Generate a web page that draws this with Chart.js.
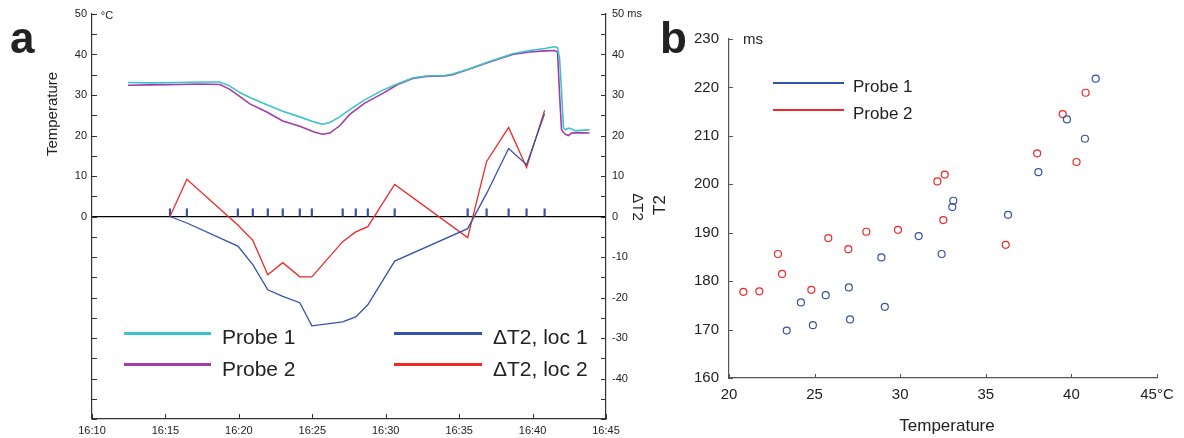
<!DOCTYPE html>
<html>
<head>
<meta charset="utf-8">
<script src="https://cdn.jsdelivr.net/npm/chart.js@4.4.1/dist/chart.umd.min.js"></script>
<style>
  body { margin: 0; background: #fff; font-family: "Liberation Sans", Arial, Helvetica, sans-serif; color: #222; }
  #wrap { position: relative; width: 1184px; height: 438px; overflow: hidden; }
  canvas { position: absolute; top: 0; }
  .lbl { position: absolute; line-height: 1; white-space: nowrap; }
  .c { transform: translate(-50%, -50%); }
  .l { transform: translateY(-50%); }
  .key { position: absolute; }
</style>
</head>
<body>
<div id="wrap">
  <canvas id="chartA" width="660" height="438" style="left:0"></canvas>
  <canvas id="chartB" width="524" height="438" style="left:660px"></canvas>

  <div class="lbl" style="left:10px; top:16px; font-size:44px; font-weight:bold;">a</div>
  <div class="lbl" style="left:660px; top:16px; font-size:44px; font-weight:bold;">b</div>

  <div class="lbl c" style="left:107px; top:15px; font-size:11px;">°C</div>
  <div class="lbl c" style="left:51px; top:114px; font-size:15px; transform: translate(-50%,-50%) rotate(-90deg);">Temperature</div>
  <div class="lbl c" style="left:638px; top:207px; font-size:15px; transform: translate(-50%,-50%) rotate(90deg);">ΔT2</div>

  <div class="key" style="left:124px; top:332px; width:87px; height:3px; background:#3cc3c9;"></div>
  <div class="lbl l" style="left:222px; top:336px; font-size:21px;">Probe 1</div>
  <div class="key" style="left:124px; top:363px; width:87px; height:3px; background:#a33ca6;"></div>
  <div class="lbl l" style="left:222px; top:368px; font-size:21px;">Probe 2</div>
  <div class="key" style="left:394px; top:332px; width:88px; height:3px; background:#3552a8;"></div>
  <div class="lbl l" style="left:493px; top:336px; font-size:21px;">ΔT2, loc 1</div>
  <div class="key" style="left:394px; top:363px; width:88px; height:3px; background:#f02828;"></div>
  <div class="lbl l" style="left:493px; top:368px; font-size:21px;">ΔT2, loc 2</div>

  <div class="lbl l" style="left:743px; top:38px; font-size:15px;">ms</div>
  <div class="lbl c" style="left:659px; top:205px; font-size:17px; transform: translate(-50%,-50%) rotate(-90deg);">T2</div>
  <div class="lbl c" style="left:947px; top:425px; font-size:17px;">Temperature</div>

  <div class="key" style="left:773px; top:82px; width:71px; height:2px; background:#3552a8;"></div>
  <div class="lbl l" style="left:853px; top:86px; font-size:17px;">Probe 1</div>
  <div class="key" style="left:773px; top:109px; width:71px; height:2px; background:#f02828;"></div>
  <div class="lbl l" style="left:853px; top:113px; font-size:17px;">Probe 2</div>
</div>

<script>
// panel a: temperature traces, minutes after 16:10
const timeMin = [2.45, 3.95, 5.99, 7.35, 8.71, 9.39, 10.07, 10.75, 11.9, 12.99, 14.15, 15.17, 15.71, 16.19, 16.87, 17.55, 18.57, 19.8, 20.82, 21.84, 22.79, 24.01, 24.56, 25.71, 26.87, 28.64, 29.8, 30.82, 31.5, 31.7, 31.84, 31.97, 32.1, 32.24, 32.45, 32.65, 32.93, 33.88];
const probe1 = [33.1, 33.0, 33.1, 33.2, 33.2, 32.2, 30.6, 29.4, 27.6, 26.0, 24.6, 23.3, 22.8, 23.2, 24.6, 26.4, 28.8, 31.2, 32.8, 34.2, 34.7, 34.8, 35.2, 36.5, 38.0, 40.2, 41.0, 41.5, 41.9, 41.7, 39.0, 31.0, 22.0, 21.4, 21.8, 21.6, 21.2, 21.4];
const probe2 = [32.4, 32.5, 32.6, 32.7, 32.6, 31.4, 29.6, 27.8, 25.8, 23.6, 22.3, 20.8, 20.3, 20.6, 22.4, 25.2, 28.0, 30.4, 32.6, 34.1, 34.6, 34.7, 35.0, 36.4, 37.9, 40.0, 40.6, 40.9, 41.0, 40.6, 30.0, 21.5, 20.8, 20.3, 20.0, 20.6, 20.7, 20.6];

// panel a: T2 change at the scan times
const scanMin = [5.31, 6.46, 9.93, 10.95, 11.97, 12.99, 14.15, 14.97, 17.07, 17.96, 18.78, 20.61, 25.58, 26.87, 28.37, 29.59, 30.82];
const dT2loc1 = [0, -1.6, -7.3, -11.9, -18.1, -19.7, -21.3, -27.0, -26.0, -24.8, -21.8, -11.0, -3.0, 5.7, 16.8, 12.8, 25.4];
const dT2loc2 = [0, 9.2, -2.1, -5.9, -14.4, -11.4, -14.9, -14.9, -6.2, -3.8, -2.5, 7.9, -5.2, 13.6, 22.0, 12.1, 26.2];

// panel b: T2 against temperature
const tempProbe1 = [23.37, 24.2, 24.9, 25.65, 27.0, 27.07, 28.9, 29.1, 31.08, 32.42, 33.04, 33.1, 36.3, 38.07, 39.74, 40.79, 41.42];
const t2Probe1 = [169.8, 175.6, 170.9, 177.1, 178.7, 172.1, 184.9, 174.7, 189.3, 185.6, 195.3, 196.6, 193.7, 202.5, 213.4, 209.4, 221.8];
const tempProbe2 = [20.84, 21.77, 22.86, 23.1, 24.81, 25.8, 26.97, 28.02, 29.87, 32.17, 32.52, 32.6, 36.16, 38.0, 39.49, 40.3, 40.83];
const t2Probe2 = [177.8, 177.9, 185.6, 181.5, 178.2, 188.9, 186.6, 190.2, 190.6, 200.6, 192.6, 202.0, 187.5, 206.4, 214.5, 204.6, 218.9];

const FONT = "'Liberation Sans', Arial, Helvetica, sans-serif";
Chart.defaults.font.family = FONT;
Chart.defaults.color = '#222';

const pts = (xs, ys) => xs.map((x, i) => ({ x: x, y: ys[i] }));

// tick marks pointing into the plot, like the original figure
const inwardTicks = {
  id: 'inwardTicks',
  afterDraw(chart, args, opts) {
    const ctx = chart.ctx, a = chart.chartArea;
    ctx.save();
    ctx.strokeStyle = opts.color;
    ctx.lineWidth = 1;
    Object.values(chart.scales).forEach(s => {
      s.ticks.forEach(t => {
        const p = Math.round(s.getPixelForValue(t.value)) + 0.5;
        ctx.beginPath();
        if (s.axis === 'x') { ctx.moveTo(p, a.bottom); ctx.lineTo(p, a.bottom - opts.len); }
        else if (s.position === 'left') { ctx.moveTo(a.left, p); ctx.lineTo(a.left + opts.len, p); }
        else { ctx.moveTo(a.right, p); ctx.lineTo(a.right - opts.len, p); }
        ctx.stroke();
      });
    });
    ctx.restore();
  }
};

new Chart(document.getElementById('chartA'), {
  type: 'line',
  data: {
    datasets: [
      { data: pts(timeMin, probe1), borderColor: '#3cc3c9', borderWidth: 1.6, pointRadius: 0, tension: 0, yAxisID: 'y' },
      { data: pts(timeMin, probe2), borderColor: '#a33ca6', borderWidth: 1.6, pointRadius: 0, tension: 0, yAxisID: 'y' },
      { data: pts(scanMin, dT2loc1), borderColor: '#3552a8', borderWidth: 1.3, pointRadius: 0, tension: 0, yAxisID: 'y2' },
      { data: pts(scanMin, dT2loc2), borderColor: '#f02828', borderWidth: 1.3, pointRadius: 0, tension: 0, yAxisID: 'y2' },
      { data: scanMin.map(m => ({ x: m, y: 1 })), showLine: false, pointStyle: 'line', rotation: 90,
        pointRadius: 4, borderColor: '#3552a8', borderWidth: 2.2, yAxisID: 'y2' }
    ]
  },
  options: {
    responsive: false,
    devicePixelRatio: 1,
    animation: false,
    layout: { padding: { left: 0, right: 0, top: 14, bottom: 0 } },
    plugins: { legend: { display: false }, tooltip: { enabled: false }, inwardTicks: { len: 5, color: '#333' } },
    scales: {
      x: {
        type: 'linear', min: 0, max: 35,
        ticks: { stepSize: 5, maxRotation: 0, padding: 5, font: { size: 11 },
          callback: v => '16:' + String(10 + v).padStart(2, '0') },
        grid: { drawOnChartArea: false, drawTicks: false },
        border: { color: '#333', width: 1.2 },
        afterFit: s => { s.height = 19; }
      },
      y: {
        position: 'left', min: -50, max: 50,
        ticks: { stepSize: 5, autoSkip: false, padding: 5, font: { size: 11 },
          callback: v => (v >= 0 && v % 10 === 0) ? v : '' },
        grid: { color: c => (c.tick && c.tick.value === 0) ? '#000' : 'rgba(0,0,0,0)', lineWidth: 1.2,
          drawTicks: false },
        border: { color: '#333', width: 1.2 },
        afterFit: s => { s.width = 92; }
      },
      y2: {
        position: 'right', min: -50, max: 50,
        ticks: { stepSize: 5, autoSkip: false, padding: 6, font: { size: 11 },
          callback: v => v === 50 ? '50 ms' : ((v % 10 === 0 && v > -50) ? v : '') },
        grid: { drawOnChartArea: false, drawTicks: false },
        border: { color: '#333', width: 1.2 },
        afterFit: s => { s.width = 54; }
      }
    }
  },
  plugins: [inwardTicks]
});

new Chart(document.getElementById('chartB'), {
  type: 'scatter',
  data: {
    datasets: [
      { data: pts(tempProbe1, t2Probe1), borderColor: '#3552a8', backgroundColor: 'rgba(255,255,255,0)',
        pointRadius: 3.5, borderWidth: 1.2 },
      { data: pts(tempProbe2, t2Probe2), borderColor: '#f02828', backgroundColor: 'rgba(255,255,255,0)',
        pointRadius: 3.5, borderWidth: 1.2 }
    ]
  },
  options: {
    responsive: false,
    devicePixelRatio: 1,
    animation: false,
    layout: { padding: { left: 0, right: 27, top: 39, bottom: 0 } },
    plugins: { legend: { display: false }, tooltip: { enabled: false }, inwardTicks: { len: 4, color: '#555' } },
    scales: {
      x: {
        type: 'linear', min: 20, max: 45,
        ticks: { stepSize: 5, maxRotation: 0, padding: 8, font: { size: 15 },
          callback: v => v === 45 ? '45°C' : v },
        grid: { drawOnChartArea: false, drawTicks: false },
        border: { color: '#555', width: 1.2 },
        afterFit: s => { s.height = 60; }
      },
      y: {
        min: 160, max: 230,
        ticks: { stepSize: 10, padding: 10, font: { size: 15 } },
        grid: { drawOnChartArea: false, drawTicks: false },
        border: { color: '#555', width: 1.2 },
        afterFit: s => { s.width = 69; }
      }
    }
  },
  plugins: [inwardTicks]
});
</script>
</body>
</html>
